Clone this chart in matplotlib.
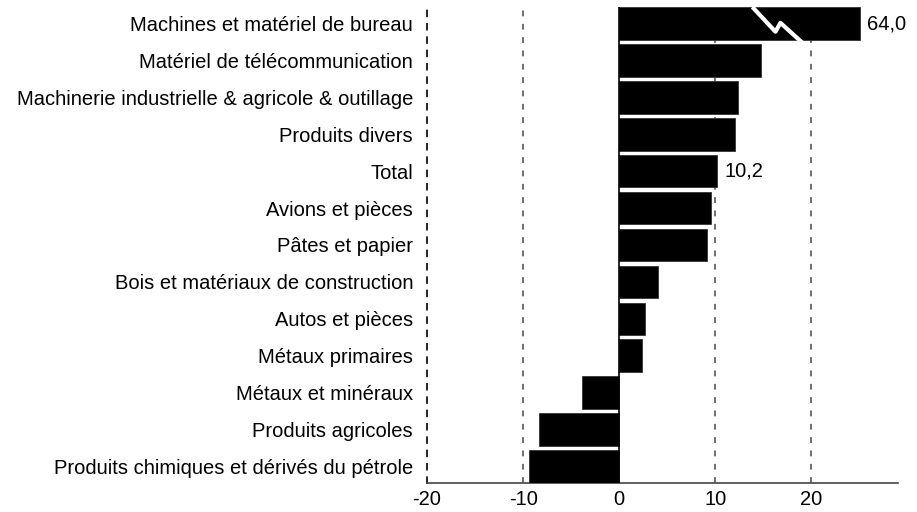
import matplotlib.pyplot as plt
import numpy as np

plt.rcParams['font.family'] = ['Liberation Sans', 'DejaVu Sans']

categories = ["Machines et matériel de bureau", "Matériel de télécommunication",
              "Machinerie industrielle & agricole & outillage", "Produits divers",
              "Total", "Avions et pièces", "Pâtes et papier",
              "Bois et matériaux de construction", "Autos et pièces",
              "Métaux primaires", "Métaux et minéraux", "Produits agricoles",
              "Produits chimiques et dérivés du pétrole"]
values = [64.0, 14.7, 12.4, 12.0, 10.2, 9.5, 9.1, 4.0, 2.7, 2.4, -3.9, -8.4, -9.4]
labelled = {"Machines et matériel de bureau": "64,0", "Total": "10,2"}
cap = 25.0  # the big bar is cut off here

fs = 14.5
dash = (0, (3.5, 4.5))
fig = plt.figure(figsize=(9.17, 5.12), dpi=100)
ax = fig.add_axes([427/917, 1-483/512, (898-427)/917, (483-7)/512])

y = np.arange(len(categories))
shown = [min(v, cap) for v in values]
ax.barh(y, shown, height=0.88, color='black', edgecolor='#333333', linewidth=0.6, zorder=3)

for xv in [-10, 10, 20]:
    ax.axvline(xv, color='#555555', ls=dash, lw=1.2, zorder=1)
ax.axvline(0, color='black', lw=1.2, zorder=4)

# break mark on the truncated bar
bx = [13.85, 16.25, 16.77, 19.06]
by = [-0.45, 0.22, -0.02, 0.52]
ax.plot(bx, by, color='white', lw=3, zorder=5, solid_capstyle='butt', clip_on=False)

for i, (c, v) in enumerate(zip(categories, shown)):
    if c in labelled:
        ax.text(v + 0.8, i, labelled[c], va='center', ha='left', fontsize=fs)

ax.set_xlim(-20, 29)
ax.set_ylim(12.45, -0.45)
ax.set_yticks(y)
ax.set_yticklabels(categories, fontsize=fs)
ax.set_xticks([-20, -10, 0, 10, 20])
ax.set_xticklabels(['-20', '-10', '0', '10', '20'], fontsize=fs)
ax.tick_params(axis='y', length=0, pad=10)
ax.tick_params(axis='x', length=0, pad=5)
for s in ['top', 'right']:
    ax.spines[s].set_visible(False)
ax.spines['left'].set_linestyle(dash)
ax.spines['left'].set_linewidth(1.2)
ax.spines['bottom'].set_color('#444444')
ax.spines['bottom'].set_linewidth(1.2)

fig.savefig('out.png', dpi=100)
